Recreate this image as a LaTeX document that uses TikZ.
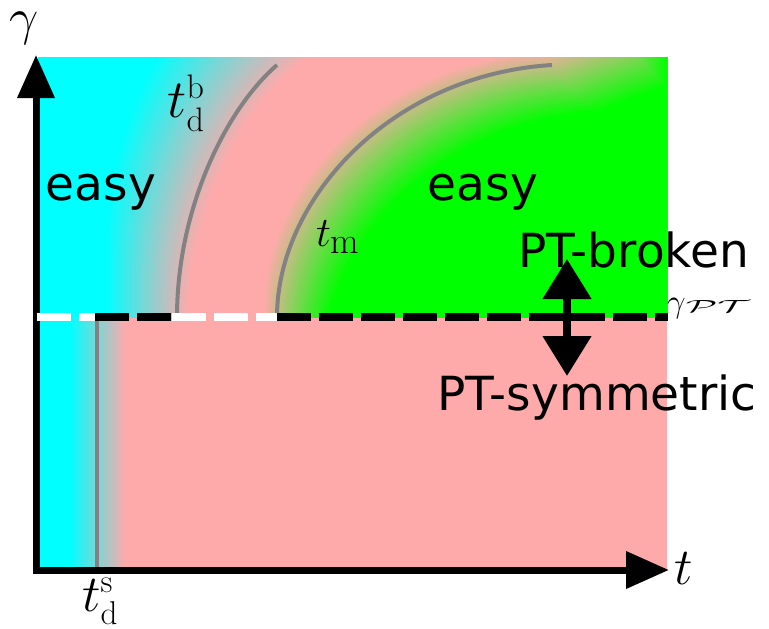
\RequirePackage{fix-cm}
\documentclass[tikz,border=0pt]{standalone}
\usepackage{fontspec}
\usepackage{graphicx}
\usetikzlibrary{arrows.meta}
\newfontfamily\dvsans{DejaVu Sans}
\newcommand\scrtxt[2]{\mbox{\fontsize{#1}{#1}\selectfont #2}}
\definecolor{pinkc}{RGB}{255,170,170}
\definecolor{cyanc}{RGB}{0,255,255}
\definecolor{greenc}{RGB}{0,255,0}
\definecolor{curvec}{RGB}{130,130,130}
\begin{document}
\begin{tikzpicture}[x=1pt,y=-1pt,
  curveline/.style={draw=curvec,line width=4pt},
  wordlbl/.style={font=\dvsans\fontsize{47}{54}\selectfont, inner sep=0pt},
  mathlbl/.style={inner sep=0pt, font=\fontsize{52}{60}\selectfont},
  axisline/.style={line width=7pt, {Triangle[length=43pt,width=36pt]}-{Triangle[length=43pt,width=36pt]}},
  dblarrow/.style={line width=8pt, {Triangle[length=40pt,width=47pt]}-{Triangle[length=40pt,width=47pt]}},
  dline/.style={line width=8pt, dash pattern=on 34pt off 8pt}
]
\useasboundingbox (0,0) rectangle (769,629);
% background
\fill[pinkc] (38,57) rectangle (667,570);
% upper cyan gradient
\begin{scope}
\clip (38,57) rectangle (667,317);
\foreach \i in {0,...,40}{
  \pgfmathsetmacro\s{-12+\i*2.05}
  \pgfmathtruncatemacro\c{round(\i*2.5)}
  \fill[cyanc!\c!pinkc, shift={(-\s,-\s)}] (-300,700) -- (177,700) -- (177,317) .. controls (177,210) and (225,110) .. (277,65) -- (381,-25) -- (381,-300) -- (-300,-300) -- cycle;
}
\foreach \i in {0,...,30}{
  \pgfmathsetmacro\s{-14+\i*2}
  \pgfmathtruncatemacro\c{round(\i*100/30)}
  \fill[greenc!\c!pinkc, shift={(\s,\s)}] (277,700) -- (277,317) .. controls (277,200) and (390,75) .. (552,65) -- (620,40) -- (620,-300) -- (1000,-300) -- (1000,700) -- cycle;
}
\end{scope}
% lower cyan
\fill[cyanc] (38,317) rectangle (70,570);
\shade[left color=cyanc, right color=pinkc] (70,317) rectangle (125,570);
% curves
\draw[curveline] (177,317) .. controls (177,210) and (225,110) .. (277,65);
\draw[curveline] (277,317) .. controls (277,200) and (390,75) .. (552,65);
\draw[draw=curvec, line width=3.5pt] (97,317) -- (97,570);
% axes
\coordinate (O) at (36,570);
\coordinate (ytip) at (36,55);
\coordinate (xtip) at (669,570);
\draw[axisline] (ytip) -- (O) -- (xtip);
% dashed line
\draw[dline, white] (37,317) -- (95,317);
\draw[dline, black] (95,317) -- (171,317);
\draw[dline, white] (172,317) -- (277,317);
\draw[dline, black] (277,317) -- (668,317);
% double arrow
\coordinate (pbu) at (567,259);
\coordinate (pbd) at (567,376);
\draw[dblarrow] (pbd) -- (pbu);
% labels
\node[mathlbl] (gam) at (24,28) {$\gamma$};
\node[mathlbl] (tax) at (684,569) {$t$};
\node[mathlbl] (tds) at (100,601) {$t_{\scrtxt{33}{d}}^{\scrtxt{33}{s}}$};
\node[mathlbl, font=\fontsize{54}{60}\selectfont] (tdb) at (186,103) {$t_{\scrtxt{34}{d}}^{\scrtxt{34}{b}}$};
\node[mathlbl, font=\fontsize{42}{50}\selectfont] (tm) at (338,237) {$t_{\scrtxt{37}{m}}$};
\node[mathlbl, font=\fontsize{33}{40}\selectfont, anchor=west] (gpt) at (667,309) {$\gamma$\resizebox{64pt}{12pt}{$\mathcal{PT}$}};
\node[wordlbl, anchor=base] (easyl) at (101,200) {easy};
\node[wordlbl, anchor=base] (easyr) at (483,200) {easy};
\node[wordlbl, anchor=base west] (ptb) at (518,267) {PT-broken};
\node[wordlbl, anchor=base west] (pts) at (437,410) {PT-symmetric};
\end{tikzpicture}
\end{document}
